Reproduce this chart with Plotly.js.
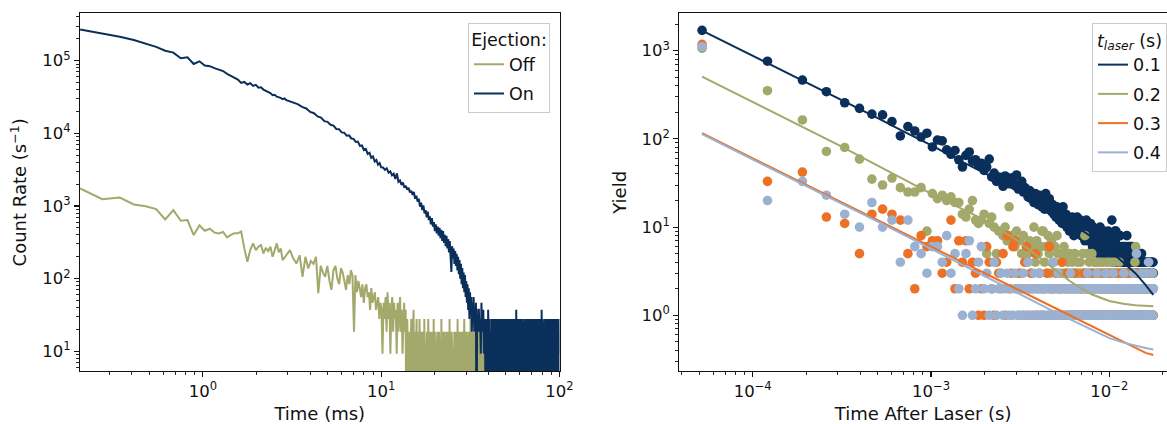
<!DOCTYPE html>
<html>
<head>
<meta charset="utf-8">
<script src="https://cdn.plot.ly/plotly-3.0.1.min.js"></script>
<style>html,body{margin:0;padding:0;background:#fff}#chart{width:1167px;height:424px}</style>
</head>
<body>
<div id="chart"></div>
<script>
// ---------------- Left panel: count rate vs time (ms) ----------------
const offTime = [
0.205,0.273,0.342,0.410,0.478,0.547,0.615,0.683,0.752,0.820,0.888,0.957,1.025,1.093,1.162,1.230,1.298,1.367,1.435,1.503,
1.572,1.640,1.708,1.777,1.845,1.913,1.982,2.050,2.118,2.187,2.255,2.323,2.392,2.460,2.528,2.597,2.665,2.733,2.802,
2.94,3.08,3.21,3.35,3.49,3.62,3.76,3.90,4.03,4.17,4.31,4.44,4.58,4.72,4.85,4.99,
5.13,5.26,5.40,5.54,5.67,5.81,5.95,6.08,6.22,6.35,6.49,6.63,6.76,6.90,7.04,7.17,7.31,7.45,7.58,7.72,7.85,7.99,8.13,8.26,8.40,8.54,8.67,8.81,8.94,9.08,9.22,9.35,9.49,9.63,9.76,9.90,
10.04,10.17,10.31,10.45,10.58,10.72,10.86,10.99,11.13,11.26,11.40,11.54,11.67,11.81,11.95,12.08,12.22,12.36,12.49,12.63,12.76,12.90,13.04,13.17,13.31,13.45,13.58,13.72,13.86,
14.0,14.15,14.3,14.45,14.6,14.75,14.9,15.05,15.2,15.35,15.5,15.65,15.8,15.95,16.1,16.25,16.4,16.55,16.7,16.85,17.0,17.15,17.3,17.45,17.6,17.75,17.9,18.05,18.2,18.35,18.5,18.65,18.8,18.95,19.1,19.25,19.4,19.55,19.7,19.85,
20.0,20.22,20.44,20.66,20.88,21.1,21.32,21.54,21.76,21.98,22.2,22.42,22.64,22.86,23.08,23.3,23.52,23.74,23.96,24.18,24.4,24.62,24.84,25.06,25.28,25.5,25.72,25.94,26.16,26.38,26.6,26.82,27.04,27.26,27.48,27.7,27.92,28.14,28.36,28.58,28.8,29.02,29.24,29.46,29.68,
29.9,30.2,30.5,30.8,31.1,31.4,31.7,32.0,32.3,32.6,32.9,33.2,33.5,33.8,34.1,34.4,34.7,35.0,35.3,35.6,35.9,36.2,36.5,36.8,37.1,37.4,37.7,
38.5,39.5,40.5,41.5,42.5,43.5,44.5,45.5,46.5,47.5,48.5,49.5,50.5,51.5,52.5,53.5,54.5,55.5,56.5,57.5,58.5,59.5,60.5,61.5,62.5,63.5,64.5,65.5,66.5,67.5,68.5,69.5,70.5,71.5,72.5,73.5,74.5,75.5,76.5,77.5,78.5,79.5,80.5,81.5,82.5,83.5,84.5,85.5,86.5,87.5,88.5,89.5,90.5,91.5,92.5,93.5,94.5,95.5,96.5,97.5,98.5,99.5
];
const offRate = [
1750,1240,1310,1050,990,905,654,879,627,640,398,541,456,486,430,420,441,370,400,420,
420,445,261,171,250,306,247,275,290,223,265,240,275,200,245,306,230,260,180,
215,247,190,162,210,106,200,138,175,160,200,63,150,120,106,150,
93,70,130,150,102,84,140,121,93,70,112,84,130,112,18.6,111.6,65.1,93,74.4,55.8,83.7,46.5,74.4,83.7,55.8,65.1,37.2,74.4,46.5,55.8,65.1,37.2,46.5,55.8,27.9,46.5,
37.2,9.3,46.5,27.9,55.8,18.6,65.1,27.9,46.5,9.3,37.2,55.8,18.6,46.5,27.9,37.2,9.3,46.5,18.6,27.9,55.8,18.6,37.2,9.3,27.9,46.5,18.6,37.2,0,
27.9,9.3,0,18.6,9.3,27.9,0,18.6,37.2,0,18.6,9.3,27.9,0,18.6,0,27.9,9.3,18.6,0,18.6,9.3,0,27.9,18.6,0,9.3,18.6,0,27.9,9.3,18.6,0,18.6,0,9.3,18.6,0,27.9,0,
18.6,0,9.3,18.6,0,18.6,9.3,0,27.9,0,18.6,9.3,18.6,0,9.3,18.6,0,18.6,0,27.9,9.3,0,18.6,9.3,0,18.6,18.6,0,9.3,18.6,0,27.9,0,9.3,18.6,0,18.6,9.3,0,18.6,0,9.3,27.9,0,18.6,
0,18.6,9.3,0,18.6,0,27.9,9.3,0,18.6,9.3,0,18.6,0,9.3,18.6,0,27.9,0,18.6,9.3,0,18.6,0,9.3,18.6,0,
18.6,0,9.3,27.9,0,18.6,0,9.3,0,18.6,0,27.9,0,9.3,18.6,0,0,18.6,9.3,0,27.9,0,9.3,0,18.6,0,9.3,18.6,0,27.9,0,9.3,0,18.6,0,9.3,27.9,0,18.6,0,9.3,0,18.6,0,27.9,0,9.3,0,18.6,9.3,0,18.6,0,27.9,0,9.3,18.6,0,9.3,0,18.6,0
];
const onTime = [
0.205,0.273,0.342,0.410,0.478,0.547,0.615,0.683,0.752,0.820,0.888,0.957,1.025,1.093,1.162,1.230,1.298,1.367,1.435,1.503,
1.572,1.640,1.708,1.777,1.845,1.913,1.982,2.050,2.118,2.187,2.255,2.323,2.392,2.460,2.528,2.597,2.665,2.733,2.802,2.870,2.938,3.007,
3.2,3.4,3.6,3.8,4.0,4.2,4.4,4.6,4.8,5.0,5.2,5.4,5.6,5.8,6.0,6.2,6.4,6.6,6.8,7.0,7.2,7.4,7.6,7.8,8.0,8.2,8.4,8.6,8.8,9.0,9.2,9.4,9.6,9.8,10.0,
10.25,10.5,10.75,11.0,11.25,11.5,11.75,12.0,12.25,12.5,12.75,13.0,13.25,13.5,13.75,14.0,14.25,14.5,14.75,15.0,15.25,15.5,15.75,16.0,16.25,16.5,16.75,17.0,17.25,17.5,17.75,18.0,18.25,18.5,18.75,19.0,19.25,19.5,19.75,20.0,
20.25,20.5,20.75,21.0,21.25,21.5,21.75,22.0,22.25,22.5,22.75,23.0,23.25,23.5,23.75,24.0,24.25,24.5,24.75,25.0,25.25,25.5,25.75,26.0,26.25,26.5,26.75,27.0,27.25,27.5,27.75,28.0,28.25,28.5,28.75,29.0,29.25,29.5,29.75,30.0,
30.25,30.5,30.75,31.0,31.25,31.5,31.75,32.0,32.25,32.5,32.75,33.0,33.25,33.5,33.75,34.0,34.25,34.5,34.75,35.0,
35.3,35.6,35.9,36.2,36.5,36.8,37.1,37.4,37.7,38.0,38.3,38.6,38.9,39.2,39.5,39.8,40.1,40.4,40.7,41.0,41.3,41.6,41.9,42.2,42.5,42.8,43.1,43.4,43.7,44.0,44.3,44.6,44.9,45.2,45.5,45.8,46.1,46.4,46.7,47.0,47.3,47.6,47.9,48.2,48.5,48.8,49.1,49.4,49.7,50.0,
50.45,50.9,51.35,51.8,52.25,52.7,53.15,53.6,54.05,54.5,54.95,55.4,55.85,56.3,56.75,57.2,57.65,58.1,58.55,59.0,59.45,59.9,60.35,60.8,61.25,61.7,62.15,62.6,63.05,63.5,63.95,64.4,64.85,65.3,65.75,66.2,66.65,67.1,67.55,68.0,68.45,68.9,69.35,69.8,
70.4,71.0,71.6,72.2,72.8,73.4,74.0,74.6,75.2,75.8,76.4,77.0,77.6,78.2,78.8,79.4,80.0,80.6,81.2,81.8,82.4,83.0,83.6,84.2,84.8,85.4,86.0,86.6,87.2,87.8,88.4,89.0,89.6,90.2,90.8,91.4,92.0,92.6,93.2,93.8,94.4,95.0,95.6,96.2,96.8,97.4,98.0,98.6,99.2,99.8
];
const onRate = [
269000,237000,213000,193000,170000,155000,137000,129000,108000,111000,90000,98000,86000,84000,79000,76000,72000,66000,62000,58000,
55000,49500,51000,47000,49000,45000,46500,42500,43000,40000,38500,36500,35800,33500,34000,32000,31500,30800,29500,30200,28700,28000,
26400,25200,23100,22000,19700,18900,17100,16500,14700,14400,13100,12800,11500,11400,10300,10200,9300,9400,8500,8400,7600,7700,6700,6800,5900,6100,5200,5400,4600,4800,4100,4300,3700,3900,3400,
3380,3150,3300,2870,2990,2640,2780,2350,2810,2150,2240,1950,2100,1790,1900,1680,1780,1540,1620,1420,1560,1260,1380,1150,1260,980,1110,880,1020,790,880,700,840,640,720,560,680,520,600,450,
560,420,520,390,500,360,470,330,450,310,400,280,390,260,350,230,330,200,124,280,190,260,160,240,150,220,130,200,115,180,100,160,84,140,74,121,65,112,56,93,
46.5,84,37.2,74,27.9,65,37.2,56,18.6,46.5,27.9,55.8,18.6,37.2,18.6,46.5,0,27.9,18.6,37.2,
37.2,18.6,27.9,9.3,46.5,18.6,27.9,37.2,9.3,27.9,9.3,0,27.9,18.6,0,37.2,9.3,27.9,0,18.6,0,27.9,9.3,27.9,0,18.6,27.9,0,9.3,27.9,0,27.9,18.6,0,27.9,0,9.3,27.9,0,18.6,27.9,0,27.9,9.3,0,27.9,18.6,0,27.9,9.3,
0,27.9,9.3,0,27.9,18.6,0,27.9,0,18.6,27.9,9.3,0,27.9,0,37.2,0,18.6,27.9,0,9.3,27.9,0,27.9,18.6,0,27.9,9.3,0,18.6,27.9,0,27.9,0,9.3,27.9,0,18.6,27.9,0,27.9,9.3,0,27.9,
0,18.6,27.9,0,27.9,9.3,0,27.9,18.6,0,27.9,0,9.3,27.9,0,37.2,0,27.9,18.6,0,9.3,27.9,0,27.9,0,18.6,27.9,9.3,0,27.9,0,27.9,18.6,0,9.3,27.9,0,27.9,0,18.6,27.9,0,9.3,27.9,0,27.9,18.6,0,27.9,9.3
];

// ---------------- Right panel: yield vs time after laser ----------------
const delayUs = [
52,121,190,259,328,397,466,535,604,673,742,811,880,949,1018,1087,1156,1225,1294,1363,
1432,1501,1570,1639,1708,1777,1846,1915,1984,2053,2122,2191,2260,2329,2398,2467,2536,2605,2674,2743,
2812,2881,2950,3019,3088,3157,3226,3295,3364,3433,3502,3571,3640,3709,3778,3847,3916,3985,4054,4123,
4192,4261,4330,4399,4468,4537,4606,4675,4744,4813,4882,4951,5020,5089,5158,5227,5296,5365,5434,5503,
5572,5641,5710,5779,5848,5917,5986,6055,6124,6193,6262,6331,6400,6469,6538,6607,6676,6745,6814,6883,
6952,7021,7090,7159,7228,7297,7366,7435,7504,7573,7642,7711,7780,7849,7918,7987,8056,8125,8194,8263,
8332,8401,8470,8539,8608,8677,8746,8815,8884,8953,9022,9091,9160,9229,9298,9367,9436,9505,9574,9643,
9712,9781,9850,9919,9988,10057,10126,10195,10264,10333,10402,10471,10540,10609,10678,10747,10816,10885,10954,11023,
11092,11161,11230,11299,11368,11437,11506,11575,11644,11713,11782,11851,11920,11989,12058,12127,12196,12265,12334,12403,
12472,12541,12610,12679,12748,12817,12886,12955,13024,13093,13162,13231,13300,13369,13438,13507,13576,13645,13714,13783,
13852,13921,13990,14059,14128,14197,14266,14335,14404,14473,14542,14611,14680,14749,14818,14887,14956,15025,15094,15163,
15232,15301,15370,15439,15508,15577,15646,15715,15784,15853,15922,15991,16060,16129,16198,16267,16336,16405,16474,16543,
16612,16681,16750,16819,16888,16957,17026,17095,17164,17233,17302,17371,17440,17509,17578,17647
];
const yield01 = [
1700,760,465,343,257,222,191,187,157,108, 138,123,105,116,81,97,95,75,67,74,
58,48,65,71,56,58,50,53,44,48, 59,37,41,33,37,34,29,38,35,31,
36,36,30,39,27,29,33,25,28,25, 22,26,21,24,19,24,21,18,23,20,
17,20,16,24,19,16,21,17,15,18, 14,16,13,17,14,12,16,15,11,17,
13,12,14,10,13,11,9,12,10,13, 11,8,12,10,9,13,11,9,10,12,
8,9,11,8,10,7,9,12,8,10, 7,9,8,11,7,9,6,10,8,7,
9,8,6,9,7,5,8,6,10,7, 6,8,5,7,9,6,7,5,8,6,
7,7,9,6,5,8,6,5,7,12, 5,6,8,4,6,9,7,9,4,6,
5,5,4,6,5,4,8,5,4,6, 3,5,4,6,4,5,3,6,4,5,
4,8,5,4,6,3,5,4,6,5, 4,3,5,4,6,3,4,5,3,4,
4,5,4,3,4,5,3,4,4,3, 5,4,3,4,2,4,3,4,3,5,
3,4,3,4,3,4,2,3,4,3, 4,3,4,3,3,4,2,3,4,3,
4,3,4,3,4,3,2,4,3,4, 3,3,4,3,4,3
];
const yield02 = [
1065,352,164,72,80,59,35,30,36,28, 25,25,28,9,24,21,23,20,22,19,
19,14,13,16,20,12,11,12,14,5, 11,13,10,5,9,3,8,10,7,17,
8,8,6,9,3,7,5,8,4,6, 5,7,3,6,10,4,7,5,3,6,
9,9,4,6,3,8,5,3,7,2, 4,6,3,8,5,2,3,5,4,3,
6,5,3,2,4,3,5,1,3,4, 2,3,5,3,2,4,3,1,3,4,
2,3,5,2,3,8,3,1,5,3, 2,4,3,1,3,5,2,3,4,1,
3,4,3,2,4,3,1,3,4,2, 3,1,3,4,2,3,1,3,2,4,
3,3,2,4,1,3,2,3,4,1, 3,2,3,1,4,3,2,3,1,3,
2,3,1,2,4,3,1,3,2,1, 3,2,3,1,2,3,1,2,3,1,
3,2,1,3,2,1,3,1,2,3, 1,2,1,3,1,2,3,1,2,1,
3,4,1,6,3,1,2,3,1,2, 1,3,1,2,1,3,2,1,3,1,
2,1,3,2,1,3,1,2,1,3, 1,2,3,1,2,1,3,1,2,3,
1,2,3,1,2,1,3,2,1,3, 1,2,1,3,2,1
];
const yield03 = [
1180,33,42,13,11,5,14,16,14,12, 5,2,8,6,7,7,3,4,12,2,
7,4,7,2,4,3,1,2,1,6, 4,2,1,4,3,2,5,1,8,2,
3,6,7,2,1,3,2,1,4,6, 1,2,3,1,2,5,1,2,3,1,
2,1,2,0,3,1,6,2,1,0, 2,1,3,1,2,0,1,2,4,1,
0,2,1,3,0,1,2,1,0,2, 1,1,3,0,2,1,0,1,2,0,
1,2,0,1,3,1,0,2,1,0, 1,2,1,0,3,1,0,2,1,1,
0,2,1,0,1,3,0,1,2,0, 1,1,0,2,1,0,3,1,0,2,
1,0,1,2,0,1,1,3,0,2, 1,0,1,2,0,1,0,3,1,0,
2,1,0,1,2,0,1,3,0,1, 2,0,1,0,2,1,0,1,3,0,
1,2,0,1,1,0,2,1,0,3, 1,0,2,1,0,1,2,0,1,0,
3,1,0,2,1,0,1,0,2,1, 0,3,1,0,1,2,0,1,0,1,
2,0,1,3,0,1,0,2,1,0, 1,0,2,0,1,3,0,1,2,0,
1,0,2,1,0,1,3,0,1,0, 2,1,0,1,2,1
];
const yield04 = [
1110,20,33,23,14,10,19,10,12,4, 12,6,5,3,6,6,4,8,3,5,
2,1,5,7,1,2,4,6,2,3, 1,2,4,1,2,3,1,2,3,1,
2,1,3,2,1,2,1,3,2,1, 4,2,1,2,3,1,2,1,3,2,
1,2,1,2,0,2,1,1,2,4, 1,2,0,1,3,2,1,0,2,1,
2,1,2,0,1,2,1,3,1,0, 2,1,2,1,0,1,1,2,1,0,
2,1,1,1,2,0,1,2,1,3, 0,2,1,1,2,0,2,1,2,1,
0,2,1,3,1,0,2,1,2,1, 0,1,2,1,1,2,0,1,3,2,
1,0,2,1,1,2,2,0,1,2, 1,0,3,1,2,1,0,2,1,1,
1,2,0,1,2,1,2,0,1,2, 1,1,0,2,3,1,2,0,1,2,
1,2,1,0,2,1,1,2,0,1, 1,2,1,0,1,2,1,3,0,2,
1,1,2,0,1,5,2,1,0,2, 1,1,2,0,2,1,2,0,1,3,
1,2,0,1,2,1,1,0,2,1, 1,2,0,3,1,2,1,0,2,1,
4,1,2,0,1,1,2,1,0,2, 1,3,1,2,1,2
];
const fitTimeUs = [52,70,100,150,200,300,500,700,1000,1500,2000,3000,4000,5000,6000,7000,8000,10000,12000,14000,16000,17647];
const fit01 = [1690,1255,877,583,437,290,173,122,85,55,41,26,18.7,14.3,11.4,9.3,7.7,5.5,4.0,3.0,2.2,1.7];
const fit02 = [507,377,262,174,130,86,50,35,24,16,12,7.2,4.6,3.2,2.45,2.0,1.72,1.45,1.35,1.3,1.28,1.27];
const fit03 = [116,86,60,40,30,20,12,8.6,6.0,4.0,3.0,2.0,1.5,1.2,1.0,0.86,0.75,0.6,0.5,0.43,0.375,0.355];
const fit04 = [113,84,58.5,39,29,19.4,11.6,8.2,5.7,3.75,2.78,1.83,1.36,1.08,0.9,0.77,0.68,0.55,0.49,0.45,0.425,0.41];
const seriesNames = ['0.1','0.2','0.3','0.4'];
const seriesColors = ['#0b2f5b','#a3a86b','#ec7126','#9bb1d2'];

// ---------------- Build traces ----------------
const FONT = 'DejaVu Sans, Liberation Sans, sans-serif';
const C_OFF = '#a3a86b', C_ON = '#0b2f5b';
// zero counts are clipped below the axis like matplotlib's log scale
const clip = a => a.map(v => v > 0 ? v : 0.1);
const toSec = a => a.map(v => v * 1e-6);
const nz = a => a.map(v => v > 0 ? v : null);

const traces = [
  {x: offTime, y: clip(offRate), type: 'scatter', mode: 'lines', name: 'Off', legendgroup: 'off',
   line: {color: C_OFF, width: 2}, xaxis: 'x', yaxis: 'y', legend: 'legend'},
  {x: onTime, y: clip(onRate), type: 'scatter', mode: 'lines', name: 'On', legendgroup: 'on',
   line: {color: C_ON, width: 2}, xaxis: 'x', yaxis: 'y', legend: 'legend'}
];
const yields = [yield01, yield02, yield03, yield04];
const fits = [fit01, fit02, fit03, fit04];
const tSec = toSec(delayUs);
yields.forEach((ys, i) => traces.push({
  x: tSec, y: nz(ys), type: 'scatter', mode: 'markers', showlegend: false,
  marker: {color: seriesColors[i], size: 9.6, line: {width: 0}},
  xaxis: 'x2', yaxis: 'y2', hoverinfo: 'skip'
}));
fits.forEach((fy, i) => traces.push({
  x: toSec(fitTimeUs), y: fy, type: 'scatter', mode: 'lines', name: seriesNames[i],
  legendgroup: 'g' + i,
  line: {color: seriesColors[i], width: 2}, xaxis: 'x2', yaxis: 'y2', legend: 'legend2'
}));

function decMinor(lo, hi) { // minor tick positions 2..9 x 10^n
  const out = [];
  for (let e = lo; e <= hi; e++) for (let m = 2; m <= 9; m++) out.push(m * Math.pow(10, e));
  return out;
}
const sup = n => '10<sup>' + (n < 0 ? '\u2212' + (-n) : n) + '</sup>';

const tickFont = {family: FONT, size: 16.5, color: '#111'};
const titleFont = {family: FONT, size: 18, color: '#111'};
const axBase = {
  type: 'log', showline: true, mirror: true, linecolor: '#111', linewidth: 1.1,
  ticks: 'outside', ticklen: 5, tickwidth: 1.1, tickcolor: '#111',
  showgrid: false, zeroline: false, tickmode: 'array', tickfont: tickFont,
  automargin: false
};
const minorBase = {ticks: 'outside', ticklen: 2.8, tickwidth: 0.9, tickcolor: '#111', showgrid: false, tickmode: 'array'};

const W = 1167, H = 424;
const legFont = {family: FONT, size: 17.5, color: '#111'};
const layout = {
  width: W, height: H, margin: {l: 0, r: 0, t: 0, b: 0},
  paper_bgcolor: '#fff', plot_bgcolor: '#fff', font: {family: FONT, color: '#111'},
  xaxis: Object.assign({}, axBase, {
    domain: [80 / W, 559.5 / W], range: [-0.689, 2.0], anchor: 'y',
    tickvals: [1, 10, 100], ticktext: [sup(0), sup(1), sup(2)],
    minor: Object.assign({}, minorBase, {tickvals: decMinor(-1, 1).filter(v => v > 0.21)}),
    title: {text: 'Time (ms)', font: titleFont, standoff: 8}
  }),
  yaxis: Object.assign({}, axBase, {
    domain: [1 - 371.3 / H, 1 - 13.3 / H], range: [0.725, 5.652], anchor: 'x',
    tickvals: [10, 100, 1e3, 1e4, 1e5], ticktext: [sup(1), sup(2), sup(3), sup(4), sup(5)],
    minor: Object.assign({}, minorBase, {tickvals: decMinor(0, 5).filter(v => v > 5.4 && v < 4.4e5)}),
    title: {text: 'Count Rate (s<sup>\u22121</sup>)', font: titleFont, standoff: 10}
  }),
  xaxis2: Object.assign({}, axBase, {
    domain: [679.3 / W, 1], range: [-4.4117, -1.6764], anchor: 'y2',
    tickvals: [1e-4, 1e-3, 1e-2], ticktext: [sup(-4), sup(-3), sup(-2)],
    minor: Object.assign({}, minorBase, {tickvals: decMinor(-5, -2).filter(v => v > 3.9e-5 && v < 0.021)}),
    title: {text: 'Time After Laser (s)', font: titleFont, standoff: 8}
  }),
  yaxis2: Object.assign({}, axBase, {
    domain: [1 - 371.3 / H, 1 - 13.3 / H], range: [-0.635, 3.424], anchor: 'x2',
    tickvals: [1, 10, 100, 1000], ticktext: [sup(0), sup(1), sup(2), sup(3)],
    minor: Object.assign({}, minorBase, {tickvals: decMinor(-1, 3).filter(v => v > 0.23 && v < 2600)}),
    title: {text: 'Yield', font: titleFont, standoff: 10}
  }),
  legend: {
    x: 550 / W, xanchor: 'right', y: 1 - 22.7 / H, yanchor: 'top',
    bgcolor: 'rgba(255,255,255,0.8)', bordercolor: '#cccccc', borderwidth: 1,
    font: legFont, traceorder: 'grouped', tracegroupgap: 3.5,
    title: {text: 'Ejection:', side: 'top center', font: legFont}
  },
  legend2: {
    x: 1, xanchor: 'right', y: 1 - 23 / H, yanchor: 'top',
    bgcolor: 'rgba(255,255,255,0.8)', bordercolor: '#cccccc', borderwidth: 1,
    font: legFont, traceorder: 'grouped', tracegroupgap: 3.5,
    title: {text: '<i>t</i><sub><i>laser</i></sub> (s)', side: 'top center', font: legFont}
  }
};

Plotly.newPlot('chart', traces, layout, {displayModeBar: false, staticPlot: true});
</script>
</body>
</html>
